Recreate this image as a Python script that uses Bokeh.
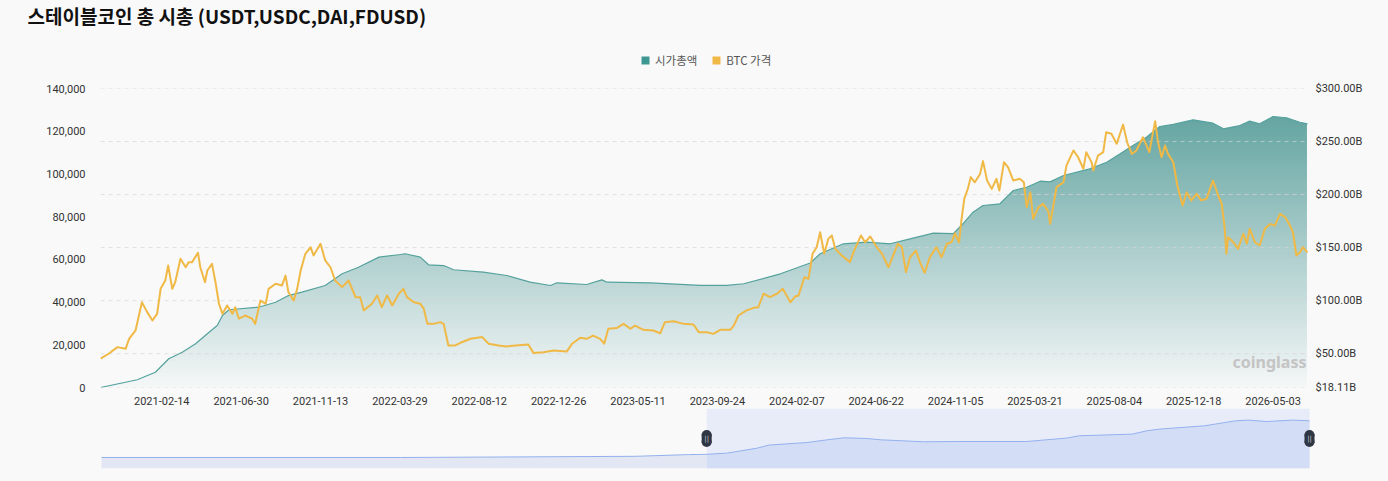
import numpy as np
import pandas as pd
from bokeh.plotting import figure
from bokeh.models import (Range1d, LinearAxis, FixedTicker, NumeralTickFormatter,
                          PrintfTickFormatter, DatetimeTickFormatter, Label, Legend,
                          LegendItem, ColumnDataSource, Title)
from bokeh.layouts import column
from bokeh.embed import file_html
from bokeh.resources import INLINE
from bokeh.core.properties import value

# ---------------- data ----------------
TITLE = "스테이블코인 총 시총 (USDT,USDC,DAI,FDUSD)"
legend_labels = ["시가총액", "BTC 가격"]
watermark = "coinglass"

x_tick_labels = ["2021-02-14", "2021-06-30", "2021-11-13", "2022-03-29", "2022-08-12",
                 "2022-12-26", "2023-05-11", "2023-09-24", "2024-02-07", "2024-06-22",
                 "2024-11-05", "2025-03-21", "2025-08-04", "2025-12-18", "2026-05-03"]
left_ticks = [0, 20000, 40000, 60000, 80000, 100000, 120000, 140000]
right_ticks = [18.11, 50, 100, 150, 200, 250, 300]

window_start = "2020-11-01"
window_end = "2026-07-01"

btc_dates = [
    "2020-11-01", "2020-11-15", "2020-11-30", "2020-12-14", "2020-12-20", "2020-12-31",
    "2021-01-11", "2021-01-20", "2021-01-29", "2021-02-06", "2021-02-12", "2021-02-20",
    "2021-02-25", "2021-03-04", "2021-03-09", "2021-03-18", "2021-03-27", "2021-04-01",
    "2021-04-07", "2021-04-17", "2021-04-21", "2021-04-29", "2021-05-03", "2021-05-11",
    "2021-05-17", "2021-05-23", "2021-05-29", "2021-06-06", "2021-06-15", "2021-06-20",
    "2021-06-26", "2021-07-07", "2021-07-19", "2021-07-24", "2021-08-02", "2021-08-11",
    "2021-08-16", "2021-08-28", "2021-09-08", "2021-09-14", "2021-09-19", "2021-09-28",
    "2021-10-04", "2021-10-10", "2021-10-18", "2021-10-27", "2021-11-01", "2021-11-13",
    "2021-11-21", "2021-11-30", "2021-12-08", "2021-12-20", "2021-12-31", "2022-01-12",
    "2022-01-20", "2022-01-26", "2022-02-09", "2022-02-18", "2022-02-26", "2022-03-07",
    "2022-03-16", "2022-03-27", "2022-04-04", "2022-04-10", "2022-04-22", "2022-05-03",
    "2022-05-09", "2022-05-15", "2022-05-26", "2022-06-06", "2022-06-12", "2022-06-20",
    "2022-07-02", "2022-07-13", "2022-07-28", "2022-08-17", "2022-08-28", "2022-09-14",
    "2022-09-28", "2022-10-13", "2022-11-04", "2022-11-13", "2022-11-30", "2022-12-17",
    "2023-01-09", "2023-01-18", "2023-02-01", "2023-02-12", "2023-02-23", "2023-03-07",
    "2023-03-14", "2023-03-21", "2023-04-05", "2023-04-16", "2023-04-28", "2023-05-06",
    "2023-05-20", "2023-06-06", "2023-06-18", "2023-06-26", "2023-07-11", "2023-07-28",
    "2023-08-14", "2023-08-23", "2023-09-06", "2023-09-17", "2023-09-29", "2023-10-16",
    "2023-10-22", "2023-10-30", "2023-11-13", "2023-11-25", "2023-12-03", "2023-12-12",
    "2023-12-23", "2024-01-04", "2024-01-14", "2024-01-27", "2024-02-04", "2024-02-10",
    "2024-02-20", "2024-02-27", "2024-03-05", "2024-03-12", "2024-03-18", "2024-03-25",
    "2024-04-01", "2024-04-07", "2024-04-13", "2024-04-24", "2024-05-08", "2024-05-14",
    "2024-05-27", "2024-06-03", "2024-06-12", "2024-06-23", "2024-07-02", "2024-07-13",
    "2024-07-20", "2024-07-29", "2024-08-05", "2024-08-12", "2024-08-19", "2024-08-29",
    "2024-09-05", "2024-09-13", "2024-09-22", "2024-10-03", "2024-10-12", "2024-10-21",
    "2024-10-29", "2024-11-04", "2024-11-11", "2024-11-15", "2024-11-20", "2024-11-26",
    "2024-12-01", "2024-12-08", "2024-12-17", "2024-12-22", "2024-12-29", "2025-01-06",
    "2025-01-14", "2025-01-19", "2025-01-27", "2025-02-03", "2025-02-12", "2025-02-23",
    "2025-03-02", "2025-03-07", "2025-03-13", "2025-03-18", "2025-03-27", "2025-04-04",
    "2025-04-13", "2025-04-16", "2025-04-21", "2025-04-27", "2025-05-09", "2025-05-14",
    "2025-05-26", "2025-06-03", "2025-06-12", "2025-06-17", "2025-06-26", "2025-06-29",
    "2025-07-07", "2025-07-16", "2025-07-21", "2025-07-30", "2025-08-08", "2025-08-19",
    "2025-08-26", "2025-09-03", "2025-09-11", "2025-09-22", "2025-10-03", "2025-10-13",
    "2025-10-18", "2025-10-24", "2025-10-30", "2025-11-04", "2025-11-13", "2025-11-20",
    "2025-11-29", "2025-12-06", "2025-12-14", "2025-12-23", "2025-12-31", "2026-01-09",
    "2026-01-15", "2026-01-20", "2026-01-29", "2026-02-04", "2026-02-09", "2026-02-12",
    "2026-02-15", "2026-02-24", "2026-03-04", "2026-03-13", "2026-03-19", "2026-03-24",
    "2026-04-02", "2026-04-10", "2026-04-19", "2026-04-28", "2026-05-06", "2026-05-15",
    "2026-05-24", "2026-06-01", "2026-06-06", "2026-06-12", "2026-06-18", "2026-06-23",
    "2026-07-01"]
btc_price = [
    13500, 15800, 18900, 18100, 22800, 26700,
    39900, 35300, 31400, 34500, 46200, 50100,
    57100, 46200, 49300, 60300, 56300, 58700,
    58700, 63100, 56300, 49300, 54800, 57900,
    49300, 39200, 34500, 38400, 34500, 37600,
    32200, 33700, 32200, 29800, 40700, 39200,
    46200, 48600, 47800, 52400, 44600, 40700,
    46200, 54800, 62600, 65700, 61800, 67300,
    59500, 56300, 50100, 47000, 50100, 42300,
    42300, 36100, 39200, 43100, 37600, 43100,
    38400, 43900, 46200, 42300, 39900, 39200,
    36800, 29800, 29800, 30600, 29800, 19700,
    19700, 21200, 22800, 23600, 20500, 19700,
    19200, 19700, 20100, 16100, 16500, 17300,
    16900, 20500, 23300, 22800, 24300, 22800,
    20500, 27500, 27900, 29800, 27500, 29000,
    27000, 26700, 25400, 30600, 31000, 29800,
    29500, 25900, 25900, 25100, 27000, 27000,
    29000, 33700, 36100, 37300, 37600, 43900,
    42300, 43900, 46200, 39900, 42600, 43100,
    51600, 50900, 62600, 65700, 72700, 62600,
    69600, 71200, 64900, 61800, 58700, 63300,
    71200, 68000, 70700, 65700, 62600, 56300,
    61000, 67300, 65700, 54000, 61000, 64100,
    58700, 53700, 61000, 65700, 61000, 67300,
    68000, 72200, 68000, 78200, 88400, 93000,
    98500, 96100, 100000, 106000, 96900, 93000,
    97700, 92200, 105500, 103100, 96900, 97700,
    96100, 84400, 91400, 79000, 84400, 86000,
    82500, 76600, 84400, 93800, 96100, 103900,
    111000, 107800, 102400, 110200, 105500, 101600,
    108600, 110200, 119500, 118800, 114100, 123100,
    114800, 109400, 111000, 117200, 110200, 124700,
    114800, 107800, 113300, 109400, 105500, 94600,
    85200, 91400, 87600, 90700, 87600, 88400,
    93000, 96900, 89900, 86000, 75100, 62600,
    70400, 68000, 64900, 72000, 67300, 74300,
    68000, 66500, 74300, 76600, 75800, 81300,
    79700, 75800, 72700, 61800, 63300, 65700,
    63300]

mcap_dates = [
    "2020-11-01", "2021-01-03", "2021-02-03", "2021-02-26", "2021-03-21", "2021-04-13",
    "2021-05-06", "2021-05-20", "2021-05-29", "2021-06-09", "2021-07-30", "2021-08-28",
    "2021-09-19", "2021-10-12", "2021-11-21", "2021-12-20", "2022-01-17", "2022-02-21",
    "2022-03-30", "2022-04-07", "2022-05-03", "2022-05-17", "2022-06-12", "2022-06-29",
    "2022-08-19", "2022-09-28", "2022-11-07", "2022-12-12", "2022-12-23", "2023-02-12",
    "2023-03-10", "2023-03-19", "2023-06-01", "2023-08-26", "2023-10-10", "2023-11-08",
    "2024-01-10", "2024-03-01", "2024-03-18", "2024-04-27", "2024-06-06", "2024-07-16",
    "2024-08-19", "2024-09-28", "2024-11-01", "2024-11-15", "2024-12-05", "2024-12-22",
    "2025-01-20", "2025-02-12", "2025-03-07", "2025-03-30", "2025-04-16", "2025-05-09",
    "2025-06-23", "2025-07-22", "2025-08-14", "2025-09-05", "2025-09-28", "2025-10-21",
    "2025-11-13", "2025-12-17", "2026-01-20", "2026-02-07", "2026-03-07", "2026-03-24",
    "2026-04-10", "2026-05-03", "2026-05-26", "2026-06-18", "2026-07-01"]
mcap_bn = [
    18.11, 25.4, 32.5, 45.2, 51.4, 59.3,
    70.2, 76.6, 86.0, 91.4, 93.8, 98.5,
    104.8, 108.0, 114.3, 125.3, 131.5, 141.0,
    143.5, 144.2, 141.0, 133.8, 133.1, 129.1,
    126.8, 123.7, 117.4, 114.3, 116.8, 115.2,
    119.6, 117.4, 116.8, 114.3, 114.3, 115.9,
    125.3, 135.5, 144.2, 153.6, 155.1, 153.6,
    158.3, 163.6, 163.1, 170.8, 183.4, 189.7,
    191.3, 203.8, 206.9, 212.6, 212.0, 218.0,
    224.3, 230.5, 238.4, 246.3, 254.1, 264.2,
    266.1, 270.5, 267.3, 262.0, 265.1, 269.2,
    266.7, 273.6, 272.4, 268.2, 266.7]

# data-zoom slider preview (full history, compressed)
preview_dates = [
    "2015-02-25", "2017-12-16", "2020-03-02", "2020-08-31", "2020-11-01", "2021-01-11",
    "2021-04-24", "2021-06-02", "2021-10-12", "2021-12-20", "2022-02-15", "2022-05-06",
    "2022-06-20", "2022-11-18", "2023-03-04", "2023-11-03", "2024-03-19", "2024-05-02",
    "2024-11-01", "2024-12-19", "2025-02-02", "2025-07-06", "2025-10-20", "2025-12-04",
    "2026-02-04", "2026-05-04", "2026-07-01"]
preview_bn = [
    61.9, 61.9, 68.6, 78.2, 79.9, 86.6,
    114.8, 131.6, 146.3, 161.5, 172.7, 168.8,
    161.5, 150.2, 151.9, 151.9, 171.0, 184.0,
    193.5, 212.1, 221.7, 240.2, 268.4, 272.3,
    264.4, 272.3, 268.4]

# ---------------- style ----------------
BG = "#f9f9f9"
W = 1388
BORDER_L, BORDER_R = 100, 72          # shared frame for all stacked figures
TEAL_LINE = "#55a29d"
TEAL_ICON = "#3e9692"
GOLD = "#f0b946"
TICK_FONT = "Roboto"
KR_FONT = "Noto Sans CJK KR"

ws, we = pd.Timestamp(window_start), pd.Timestamp(window_end)
bd = pd.to_datetime(btc_dates)
md = pd.to_datetime(mcap_dates)
mv = np.array(mcap_bn, dtype=float)
pdates = pd.to_datetime(preview_dates)
pv = np.array(preview_bn, dtype=float)

R_MIN, R_MAX = right_ticks[0], right_ticks[-1]

# ---------------- header (title + legend) ----------------
HEAD_H = 80
head = figure(width=W, height=HEAD_H, output_backend="svg", toolbar_location=None,
              x_axis_location=None, y_axis_location=None,
              x_range=Range1d(0, 1), y_range=Range1d(0, 1),
              min_border_left=BORDER_L, min_border_right=BORDER_R,
              min_border_top=4, min_border_bottom=0,
              background_fill_color=BG, border_fill_color=BG, outline_line_color=None)
head.grid.visible = False
head.title = Title(text=TITLE, align="left", offset=-73, standoff=0,
                   vertical_align="middle", text_font=KR_FONT, text_font_style="bold",
                   text_font_size="19px", text_color="#111111")
dummy = ColumnDataSource(data=dict(l=[-3], r=[-2], t=[-2], b=[-3]))
r1 = head.quad(left="l", right="r", top="t", bottom="b", source=dummy,
               fill_color=TEAL_ICON, line_color=None)
r2 = head.quad(left="l", right="r", top="t", bottom="b", source=dummy,
               fill_color=GOLD, line_color=None)
legend = Legend(items=[LegendItem(label=legend_labels[0], renderers=[r1]),
                       LegendItem(label=legend_labels[1], renderers=[r2])],
                location=(540, 12), orientation="horizontal", glyph_width=10,
                glyph_height=10, label_standoff=5, spacing=14, padding=0, margin=0,
                label_height=10, border_line_alpha=0, background_fill_alpha=0,
                label_text_font=KR_FONT, label_text_font_size="11.5px",
                label_text_color="#555555")
head.add_layout(legend)

# ---------------- main chart ----------------
days_per_px = (we - ws) / 1207.4
p = figure(width=W, height=328, x_axis_type="datetime", output_backend="svg",
           toolbar_location=None, x_range=Range1d(ws, we + 9 * days_per_px),
           y_range=Range1d(0, 140000),
           min_border_left=BORDER_L, min_border_right=BORDER_R, min_border_top=8,
           min_border_bottom=21,
           background_fill_color=BG, border_fill_color=BG, outline_line_color=None)
p.extra_y_ranges = {"mcap": Range1d(R_MIN, R_MAX)}
p.xgrid.visible = False
p.ygrid.visible = False

# gradient under the market-cap curve: horizontal bands, masked above the curve
top_val = mv.max()
N = 90
step = (top_val - R_MIN) / N
c_top = np.array([100, 165, 162])
c_bot = np.array([245, 247, 247])
los, his, cols = [], [], []
for i in range(N):
    lo = R_MIN + i * step
    hi = min(lo + 1.6 * step, top_val + step)
    f = (lo + 0.5 * step - R_MIN) / (top_val - R_MIN)
    c = c_bot + (c_top - c_bot) * f
    los.append(lo)
    his.append(hi)
    cols.append("#%02x%02x%02x" % tuple(int(round(v)) for v in c))
one_day = pd.Timedelta(days=1)
p.quad(left=[ws + one_day] * N, right=[we - one_day] * N, bottom=los, top=his,
       fill_color=cols, line_color=None, y_range_name="mcap")
p.varea(x=md, y1=mv, y2=R_MAX, fill_color=BG, y_range_name="mcap")

# dashed grid lines (right-axis ticks)
p.segment(x0=[ws] * len(right_ticks), x1=[we] * len(right_ticks), y0=right_ticks,
          y1=right_ticks, line_color="#d6d6d6", line_alpha=0.7, line_width=1,
          line_dash="4 4", y_range_name="mcap")

p.line(x=md, y=mv, line_color=TEAL_LINE, line_width=1.2, y_range_name="mcap")
p.line(x=bd, y=btc_price, line_color=GOLD, line_width=2, line_join="round")

# axes
xa = p.xaxis[0]
xa.ticker = FixedTicker(ticks=[pd.Timestamp(d).value // 10**6 for d in x_tick_labels])
fmt = "%Y-%m-%d"
xa.formatter = DatetimeTickFormatter(microseconds=fmt, milliseconds=fmt, seconds=fmt,
                                     minsec=fmt, minutes=fmt, hourmin=fmt, hours=fmt,
                                     days=fmt, months=fmt, years=fmt)
ya = p.yaxis[0]
ya.ticker = FixedTicker(ticks=left_ticks)
ya.formatter = NumeralTickFormatter(format="0,0")
ra = LinearAxis(y_range_name="mcap", ticker=FixedTicker(ticks=right_ticks),
                formatter=PrintfTickFormatter(format="$%.2fB"))
p.add_layout(ra, "right")
for ax in (xa, ya, ra):
    ax.axis_line_color = None
    ax.major_tick_line_color = None
    ax.minor_tick_line_color = None
    ax.major_label_text_font = TICK_FONT
    ax.major_label_text_font_size = "11px"
    ax.major_label_text_color = "#333333"
xa.major_label_standoff = 3
ya.major_label_standoff = 9
ra.major_label_standoff = -7

# watermark
p.add_layout(Label(x=1206, y=26, x_units="screen", y_units="screen", text=watermark,
                   text_font="Noto Sans", text_font_style="bold", text_font_size="16px",
                   text_color="#c4c4c4", text_baseline="middle", text_align="right"))

# ---------------- data-zoom slider ----------------
ps, pe = pdates[0], we
dpp = (pe - ps) / 1208.0
SL_TOP = 337.6
p2 = figure(width=W, height=73, x_axis_type="datetime", output_backend="svg",
            toolbar_location=None, x_axis_location=None, y_axis_location=None,
            x_range=Range1d(ps - 1 * dpp, pe + 7 * dpp), y_range=Range1d(0, SL_TOP),
            min_border_left=BORDER_L, min_border_right=BORDER_R, min_border_top=0,
            min_border_bottom=13,
            background_fill_color=BG, border_fill_color=BG, outline_line_color=None)
p2.grid.visible = False
p2.quad(left=[ws], right=[we], bottom=[0], top=[SL_TOP], fill_color="#e8ecf9", line_color=None)
left_mask = pdates <= ws
right_mask = pdates >= ws
p2.varea(x=pdates[left_mask], y1=0, y2=pv[left_mask], fill_color="#e3e7f3")
p2.varea(x=pdates[right_mask], y1=0, y2=pv[right_mask], fill_color="#d4ddf6")
p2.line(x=pdates, y=pv, line_color="#93b1ee", line_width=1)
hy = SL_TOP / 2
hoff = 3.5 * SL_TOP / 60
for hx in (ws, we):
    p2.rect(x=[hx], y=[hy], width=10, height=9, width_units="screen", height_units="screen",
            fill_color="#2f3644", line_color=None)
    p2.scatter(x=[hx, hx], y=[hy - hoff, hy + hoff], size=10, marker="circle",
               fill_color="#2f3644", line_color=None)
    p2.text(x=[hx], y=[hy], text=["||"], text_color="#c9ced8", text_font_size="7px",
            text_align="center", text_baseline="middle", text_font=value("DejaVu Sans"))

layout = column(head, p, p2)
layout.styles = {"background-color": BG}
open("out.html", "w").write(file_html(layout, INLINE))
